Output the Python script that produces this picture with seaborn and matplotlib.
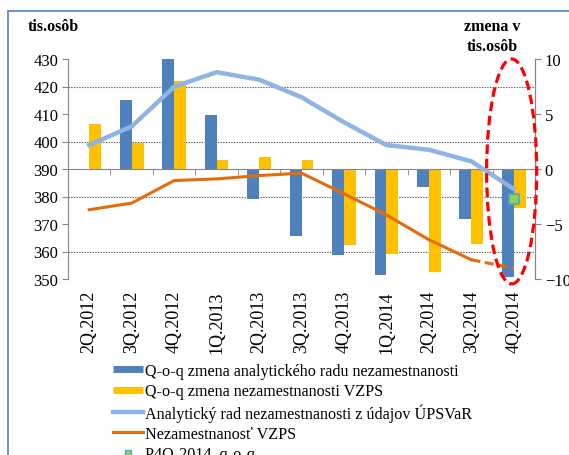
import matplotlib
matplotlib.use("Agg")
import matplotlib.pyplot as plt
from matplotlib.lines import Line2D
from matplotlib.patches import Ellipse, Rectangle
import numpy as np
import pandas as pd
import seaborn as sns

# Data
kvartaly = ['2Q.2012', '3Q.2012', '4Q.2012', '1Q.2013', '2Q.2013', '3Q.2013',
            '4Q.2013', '1Q.2014', '2Q.2014', '3Q.2014', '4Q.2014']
# q-o-q zmeny (prava os, tis. osob)
zmena_analyticky = [0.0, 6.3, 10.0, 4.9, -2.7, -6.1, -7.8, -9.6, -1.6, -4.5, -9.8]
zmena_vzps = [4.1, 2.4, 8.0, 0.8, 1.1, 0.8, -6.9, -7.7, -9.4, -6.8, -3.5]
# urovne (lava os, tis. osob)
analyticky_rad = [398.7, 405.5, 419.9, 425.2, 422.5, 416.1, 407.0, 398.7, 397.0, 392.8, 382.7]
nezam_vzps = [375.2, 377.6, 385.8, 386.4, 387.6, 388.5, 381.0, 373.3, 364.3, 357.0, 353.9]
p4q_2014 = -2.75

nazvy = ['Q-o-q zmena analytického radu nezamestnanosti',
         'Q-o-q zmena nezamestnanosti VZPS',
         'Analytický rad nezamestnanosti z údajov ÚPSVaR',
         'Nezamestnanosť VZPS',
         'P4Q-2014, q-o-q']

modra = '#4F81BD'
zlta = '#FFC000'
svetlomodra = '#8DB4E2'
oranzova = '#E46C0A'
siva = '#868686'

plt.rcParams['font.family'] = ['Liberation Serif', 'DejaVu Serif']

fig = plt.figure(figsize=(5.69, 4.56), dpi=100)
ax = fig.add_axes([68 / 569, 1 - 280 / 456, 467 / 569, 220 / 456])
ax2 = ax.twinx()

df = pd.DataFrame({
    'kvartal': kvartaly * 2,
    'zmena': zmena_analyticky + zmena_vzps,
    'rad': ['A'] * len(kvartaly) + ['V'] * len(kvartaly),
})
sns.barplot(data=df, x='kvartal', y='zmena', hue='rad',
            palette={'A': modra, 'V': zlta}, width=0.56, saturation=1,
            legend=False, ax=ax, zorder=2)

x_pos = np.arange(len(kvartaly))
ax.scatter([kvartaly.index('4Q.2014')], [p4q_2014], marker='s', s=48,
           color='#92D050', edgecolor='#4BACC6', linewidth=1.3, zorder=5)

# prava os (zmeny)
ax.set_xlim(-0.5, len(kvartaly) - 0.5)
ax.set_ylim(-10, 10)
ax.yaxis.tick_right()
ax.set_yticks([-10, -5, 0, 5, 10])
ax.set_yticks(np.arange(-10, 10.1, 2.5), minor=True)
ax.tick_params(axis='y', which='major', labelsize=12, length=4, color=siva, pad=3)
ax.tick_params(axis='y', which='minor', length=0)
ax.grid(axis='y', which='minor', linestyle=(0, (1.2, 1.2)), color='#595959', lw=0.8)
ax.set_axisbelow(True)
ax.set_xlabel('')
ax.set_ylabel('')

# kategoria os na nule
ax.spines['bottom'].set_position(('data', 0))
ax.spines['bottom'].set_color(siva)
ax.set_xticks(np.arange(-0.5, len(kvartaly), 1), minor=True)
ax.tick_params(axis='x', which='minor', length=4, direction='out', color=siva)
ax.tick_params(axis='x', which='major', length=0, labelbottom=False)
ax.spines['top'].set_visible(False)
ax.spines['left'].set_visible(False)
ax.spines['right'].set_color(siva)

sec = ax.secondary_xaxis('bottom')
sec.set_xticks(x_pos, labels=kvartaly, rotation=90, fontsize=13)
sec.tick_params(length=0, pad=8)
sec.spines['bottom'].set_visible(False)

# lava os s ciarami (urovne)
sns.lineplot(x=x_pos, y=analyticky_rad, color=svetlomodra, lw=3.2, ax=ax2)
sns.lineplot(x=x_pos[:10], y=nezam_vzps[:10], color=oranzova, lw=2.2, ax=ax2)
sns.lineplot(x=x_pos[9:], y=nezam_vzps[9:], color=oranzova, lw=2.2,
             linestyle=(0, (3, 1.5)), ax=ax2)
ax2.set_ylim(350, 430)
ax2.set_yticks(np.arange(350, 431, 10))
ax2.yaxis.tick_left()
ax2.tick_params(axis='y', labelsize=12, length=4, color=siva, pad=3)
ax2.spines['left'].set_color(siva)
ax2.spines['right'].set_color(siva)
ax2.spines['top'].set_visible(False)
ax2.spines['bottom'].set_visible(False)
ax2.set_ylabel('')

ax2.add_patch(Ellipse((9.95, 389.1), 1.18, 81.8, fill=False, ec='#FF0000',
                      lw=2.3, linestyle=(0, (3, 1.5)), clip_on=False, zorder=10))

# popisky osi
fig.text(28 / 569, 1 - 27 / 456, 'tis.osôb', fontsize=11.5, fontweight='bold',
         ha='left', va='center')
fig.text(492 / 569, 1 - 37 / 456, 'zmena v\ntis.osôb', fontsize=11.5,
         fontweight='bold', ha='center', va='center', linespacing=1.3)

# legenda
handles = [
    Line2D([], [], color=modra, lw=5, solid_capstyle='butt'),
    Line2D([], [], color=zlta, lw=5, solid_capstyle='butt'),
    Line2D([], [], color=svetlomodra, lw=3.2),
    Line2D([], [], color=oranzova, lw=2.2),
    Line2D([], [], marker='s', ls='none', ms=5, mfc='#92D050', mec='#4BACC6'),
]
fig.legend(handles, nazvy, loc='upper left', bbox_to_anchor=(113 / 569, 1 - 364 / 456),
           frameon=False, fontsize=11.6, handlelength=1.85, handletextpad=0.15,
           labelspacing=0.26, borderpad=0, borderaxespad=0)

# ramcek grafu
fig.add_artist(Rectangle((8 / 569, -0.2), 1.2, 1.2 - 12 / 456,
                         transform=fig.transFigure, fill=False, ec='#5B8BC9', lw=1.3))

fig.savefig('out.png', dpi=100)
